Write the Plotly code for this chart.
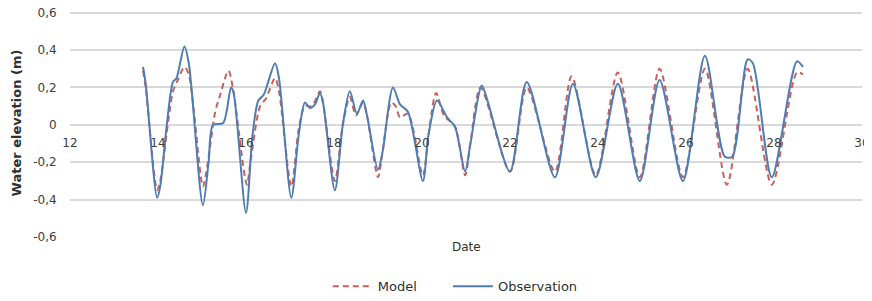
import plotly.graph_objects as go

# Observation series (day of month, water elevation in m)
obs_x = [13.66, 13.72, 13.98, 14.05, 14.2, 14.34, 14.42, 14.6, 14.7, 15.02, 15.15, 15.25, 15.48, 15.66, 15.72,
         16.0, 16.15, 16.28, 16.4, 16.66, 16.75, 17.03, 17.2, 17.34, 17.45, 17.57, 17.68, 17.75, 18.02, 18.2,
         18.36, 18.52, 18.66, 18.75, 19.0, 19.1, 19.34, 19.5, 19.68, 20.02, 20.15, 20.34, 20.57, 20.75, 20.98,
         21.1, 21.36, 21.5, 22.0, 22.38, 23.02, 23.43, 23.95, 24.45, 24.95, 25.4, 25.93, 26.43, 26.88, 27.05,
         27.4, 27.52, 27.95, 28.52, 28.66]
obs_y = [0.31, 0.22, -0.39, -0.33, 0.0, 0.23, 0.25, 0.42, 0.33, -0.43, -0.2, 0.0, 0.01, 0.2, 0.17,
         -0.47, -0.05, 0.13, 0.16, 0.33, 0.25, -0.39, -0.05, 0.12, 0.09, 0.11, 0.17, 0.12, -0.35, 0.0,
         0.18, 0.06, 0.13, 0.05, -0.24, -0.15, 0.2, 0.11, 0.07, -0.3, -0.05, 0.13, 0.04, -0.01, -0.25,
         -0.1, 0.21, 0.12, -0.25, 0.23, -0.28, 0.22, -0.28, 0.22, -0.3, 0.24, -0.3, 0.37, -0.17, -0.17,
         0.35, 0.33, -0.28, 0.34, 0.31]

# Model series
mod_x = [13.66, 13.72, 13.98, 14.05, 14.34, 14.45, 14.6, 14.7, 15.02, 15.1, 15.3, 15.4, 15.6, 15.7,
         16.02, 16.1, 16.32, 16.45, 16.66, 16.75, 17.03, 17.2, 17.34, 17.5, 17.68, 17.75, 18.02, 18.2,
         18.36, 18.5, 18.66, 18.75, 19.0, 19.1, 19.3, 19.4, 19.5, 19.68, 20.02, 20.15, 20.32, 20.5, 20.75,
         20.98, 21.1, 21.33, 22.0, 22.38, 23.02, 23.4, 23.95, 24.45, 24.95, 25.4, 25.93, 26.43, 26.93,
         27.4, 27.95, 28.52, 28.66]
mod_y = [0.29, 0.2, -0.35, -0.3, 0.18, 0.24, 0.31, 0.27, -0.33, -0.25, 0.07, 0.15, 0.29, 0.2,
         -0.32, -0.2, 0.1, 0.14, 0.25, 0.18, -0.33, -0.02, 0.1, 0.1, 0.18, 0.12, -0.3, 0.0,
         0.15, 0.05, 0.12, 0.05, -0.28, -0.15, 0.12, 0.1, 0.04, 0.06, -0.27, -0.05, 0.17, 0.05, -0.01,
         -0.27, -0.1, 0.2, -0.25, 0.2, -0.25, 0.26, -0.27, 0.28, -0.28, 0.3, -0.28, 0.3, -0.32,
         0.3, -0.32, 0.28, 0.27]

x_ticks = [12, 14, 16, 18, 20, 22, 24, 26, 28, 30]
y_ticks = [-0.6, -0.4, -0.2, 0, 0.2, 0.4, 0.6]
y_tick_labels = ["-0,6", "-0,4", "-0,2", "0", "0,2", "0,4", "0,6"]

Y_MIN, Y_MAX = -0.6, 0.62   # small headroom so the top gridline is kept
X_AXIS_POS = (0 - Y_MIN) / (Y_MAX - Y_MIN)   # x axis crosses at y = 0

FONT = "DejaVu Sans, Verdana, sans-serif"
LEG_FONT = dict(family=FONT, size=13, color="#303030")

fig = go.Figure()
fig.add_trace(go.Scatter(x=mod_x, y=mod_y, name="Model", mode="lines", legend="legend",
                         line=dict(color="#C9605C", width=2, dash="6px,4px", shape="spline", smoothing=0.8)))
fig.add_trace(go.Scatter(x=obs_x, y=obs_y, name="Observation", mode="lines", legend="legend2",
                         line=dict(color="#4F7DB3", width=2, shape="spline", smoothing=0.8)))

# the page body adds an 8px offset; the figure is sized to fill the rest of the window
fig.update_layout(
    width=864, height=293,
    margin=dict(l=62, r=10, t=1, b=64),
    plot_bgcolor="white", paper_bgcolor="white",
    font=dict(family=FONT, size=12, color="#404040"),
    showlegend=True,
    legend=dict(orientation="h", x=0.3255, xanchor="left", yref="container", y=0.05, yanchor="middle",
                font=LEG_FONT, itemwidth=40),
    legend2=dict(orientation="h", x=0.4772, xanchor="left", yref="container", y=0.05, yanchor="middle",
                 font=LEG_FONT, itemwidth=40),
    xaxis=dict(range=[12, 30], tickvals=x_ticks, ticktext=[str(v) for v in x_ticks],
               anchor="free", position=X_AXIS_POS, showgrid=False, zeroline=False, automargin=False,
               showline=False, ticks="outside", ticklen=7, tickcolor="rgba(0,0,0,0)",
               ticklabeloverflow="allow",
               tickfont=dict(family=FONT, size=12, color="#404040")),
    yaxis=dict(range=[Y_MIN, Y_MAX], tickvals=y_ticks, ticktext=y_tick_labels, automargin=False,
               showgrid=True, gridcolor="#D9D9D9", gridwidth=1.5, zeroline=False,
               ticks="outside", ticklen=10, tickcolor="rgba(0,0,0,0)", ticklabeloverflow="allow",
               tickfont=dict(family=FONT, size=12, color="#404040"),
               title=dict(text="<b>Water elevation (m)</b>", font=dict(family=FONT, size=13, color="#303030"),
                          standoff=8)),
    annotations=[dict(text="Date", xref="paper", yref="paper", x=0.5, y=-0.045,
                      xanchor="center", yanchor="middle", showarrow=False,
                      font=dict(family=FONT, size=12, color="#303030"))],
)

fig.write_html("out.html")
